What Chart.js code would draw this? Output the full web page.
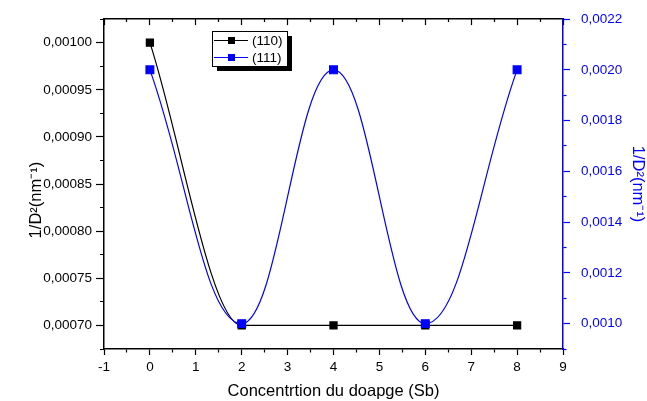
<!DOCTYPE html>
<html>
<head>
<meta charset="utf-8">
<script src="https://cdn.jsdelivr.net/npm/chart.js@4.4.0/dist/chart.umd.min.js"></script>
<style>
html,body{margin:0;padding:0;background:#ffffff;}
#wrap{width:647px;height:401px;position:relative;}
</style>
</head>
<body>
<div id="wrap"><canvas id="c" width="647" height="401"></canvas></div>
<script>
// ---- data ----
const concentration = [0, 2, 4, 6, 8];
const inv110 = [0.00100, 0.00070, 0.00070, 0.00070, 0.00070];
const inv111 = [0.00200, 0.00100, 0.00200, 0.00100, 0.00200];
const seriesLabels = ['(110)', '(111)'];
const xTitle = 'Concentrtion du doapge (Sb)';
const yTitle = '1/D²(nm⁻¹)';

const FONT = "'Liberation Sans', Arial, Helvetica, sans-serif";
const BLUE = '#0000ff';

function isMajor(v, step) { return Math.round(v / step) % 2 === 0; }
function dash(ctx, step, minorDash) {
  if (!ctx.tick) return [];
  return isMajor(ctx.tick.value, step) ? [] : minorDash;
}

const boxLegend = {
  id: 'boxLegend',
  afterDraw(chart) {
    const ctx = chart.ctx;
    const L = 212, T = 31, W = 75, H = 35, S = 5;
    ctx.save();
    ctx.fillStyle = '#000';
    ctx.fillRect(L + S, T + S, W, H);
    ctx.fillStyle = '#fff';
    ctx.fillRect(L, T, W, H);
    ctx.strokeStyle = '#000';
    ctx.lineWidth = 1;
    ctx.strokeRect(L + 0.5, T + 0.5, W, H);
    chart.data.datasets.forEach((ds, i) => {
      const y = T + 9.5 + i * 17;
      ctx.strokeStyle = ds.borderColor;
      ctx.lineWidth = 1.2;
      ctx.beginPath(); ctx.moveTo(L + 2, y); ctx.lineTo(L + 36, y); ctx.stroke();
      ctx.fillStyle = ds.borderColor;
      ctx.fillRect(L + 16, y - 3.5, 7, 7);
      ctx.fillStyle = '#000';
      ctx.font = '13.5px ' + FONT;
      ctx.textBaseline = 'middle';
      ctx.textAlign = 'left';
      ctx.fillText(ds.label, L + 40, y + 0.5);
    });
    ctx.restore();
  }
};

new Chart(document.getElementById('c'), {
  type: 'line',
  data: {
    datasets: [
      {
        label: seriesLabels[0],
        data: concentration.map((x, i) => ({x: x, y: inv110[i]})),
        xAxisID: 'x', yAxisID: 'y',
        borderColor: '#000000', backgroundColor: '#000000',
        borderWidth: 1.2,
        pointStyle: 'rect', pointRadius: 5, pointHoverRadius: 5,
        cubicInterpolationMode: 'monotone',
        order: 2
      },
      {
        label: seriesLabels[1],
        data: concentration.map((x, i) => ({x: x, y: inv111[i]})),
        xAxisID: 'x', yAxisID: 'y1',
        borderColor: BLUE, backgroundColor: BLUE,
        borderWidth: 1.2,
        pointStyle: 'rect', pointRadius: 5.5, pointHoverRadius: 5.5,
        tension: 0.4,
        order: 1
      }
    ]
  },
  options: {
    responsive: false,
    animation: false,
    devicePixelRatio: 1,
    layout: {padding: 0},
    plugins: {legend: {display: false}, title: {display: false}, tooltip: {enabled: false}},
    scales: {
      x: {
        type: 'linear', position: 'bottom', min: -1, max: 9,
        afterFit: s => { s.height = 52; },
        border: {color: '#000', width: 1.5},
        grid: {drawOnChartArea: false, tickLength: 6, tickColor: '#000', tickWidth: 1.2,
               tickBorderDash: c => dash(c, 0.5, [3, 100])},
        ticks: {stepSize: 0.5, autoSkip: false, maxRotation: 0, maxTicksLimit: 100, padding: 4, color: '#000',
                font: {family: FONT, size: 13.5},
                callback: v => isMajor(v, 0.5) ? String(Math.round(v)) : ''},
        title: {display: true, text: xTitle, color: '#000', font: {family: FONT, size: 16.5}, padding: {top: 0, bottom: 0}}
      },
      x2: {
        type: 'linear', axis: 'x', position: 'top', min: -1, max: 9,
        afterFit: s => { s.height = 15; },
        border: {color: '#000', width: 1.5},
        grid: {drawOnChartArea: false, tickLength: -6, tickColor: '#000', tickWidth: 1.2,
               tickBorderDash: c => dash(c, 0.5, [0, 3, 3, 100])},
        ticks: {stepSize: 0.5, autoSkip: false, maxRotation: 0, maxTicksLimit: 100, font: {size: 1}, callback: () => ''}
      },
      y: {
        type: 'linear', position: 'left', min: 0.000675, max: 0.001025,
        afterFit: s => { s.width = 104; },
        border: {color: '#000', width: 1.5},
        grid: {drawOnChartArea: false, tickLength: 8, tickColor: '#000', tickWidth: 1.2,
               tickBorderDash: c => dash(c, 0.000025, [0, 4, 4, 100])},
        ticks: {stepSize: 0.000025, autoSkip: false, maxTicksLimit: 100, padding: 4, color: '#000',
                font: {family: FONT, size: 13.5},
                callback: v => isMajor(v, 0.000025) ? v.toFixed(5).replace('.', ',') : ''},
        title: {display: true, text: yTitle + '       ', color: '#000', font: {family: FONT, size: 16.5}, padding: {top: 27, bottom: 0}}
      },
      y1: {
        type: 'linear', position: 'right', min: 0.0009, max: 0.0022,
        afterFit: s => { s.width = 84; },
        border: {color: BLUE, width: 1.5},
        grid: {drawOnChartArea: false, tickLength: 7, tickColor: BLUE, tickWidth: 1.2,
               tickBorderDash: c => dash(c, 0.0001, [3, 100])},
        ticks: {stepSize: 0.0001, autoSkip: false, maxTicksLimit: 100, padding: 11, color: BLUE,
                font: {family: FONT, size: 13.5},
                callback: v => isMajor(v, 0.0001) ? v.toFixed(4).replace('.', ',') : ''},
        title: {display: true, text: yTitle, color: BLUE, font: {family: FONT, size: 16.5}, padding: {top: 0, bottom: 0}}
      }
    }
  },
  plugins: [boxLegend]
});
</script>
</body>
</html>
